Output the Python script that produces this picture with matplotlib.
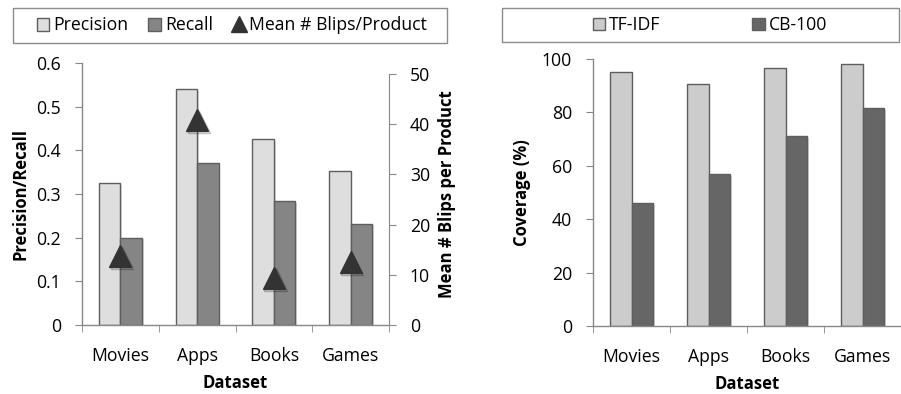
import numpy as np
import matplotlib.pyplot as plt
from matplotlib.patches import Patch, Rectangle
from matplotlib.lines import Line2D
import matplotlib.patheffects as pe

plt.rcParams['font.family'] = ['Open Sans', 'DejaVu Sans']

datasets = ['Movies', 'Apps', 'Books', 'Games']
precision = [0.325, 0.54, 0.425, 0.352]
recall = [0.20, 0.372, 0.283, 0.232]
blips = [13.7, 40.8, 9.4, 12.5]

tfidf = [95.1, 90.6, 96.6, 98.1]
cb100 = [46.0, 56.9, 71.2, 81.6]

fs = 12.7
axcol = '#888888'
edge = '#5e5e5e'
shadow = [pe.SimplePatchShadow(offset=(1.2, -1.2), alpha=0.18), pe.Normal()]

fig = plt.figure(figsize=(9.01, 3.94), dpi=100)

def style_axis(ax):
    for s in ['top', 'right']:
        ax.spines[s].set_visible(False)
    for s in ['left', 'bottom']:
        ax.spines[s].set_color(axcol)
        ax.spines[s].set_linewidth(1.0)
    ax.set_xlim(-0.5, 3.5)
    ax.set_xticks(range(4))
    ax.set_xticklabels(datasets, fontsize=fs)
    ax.set_xticks([-0.5, 0.5, 1.5, 2.5, 3.5], minor=True)
    ax.tick_params(axis='x', which='major', length=0, pad=16)
    ax.tick_params(axis='x', which='minor', length=5, color=axcol, direction='out')
    ax.tick_params(axis='y', length=5, color=axcol, direction='out', pad=10, labelsize=fs)
    ax.set_xlabel('Dataset', fontsize=12, fontweight='bold', labelpad=6)

# precision / recall with blips on secondary axis
ax1 = fig.add_axes([82 / 901, 69 / 394, 307 / 901, 262 / 394])
x = np.arange(len(datasets))
w = 0.28
b1 = ax1.bar(x - w / 2, precision, w, color='#dedede', edgecolor=edge, linewidth=1.0)
b2 = ax1.bar(x + w / 2, recall, w, color='#858585', edgecolor=edge, linewidth=1.0)
for b in list(b1) + list(b2):
    b.set_path_effects(shadow)
ax1.set_ylim(0, 0.6)
ax1.set_yticks(np.arange(0, 0.61, 0.1))
ax1.set_yticklabels(['0', '0.1', '0.2', '0.3', '0.4', '0.5', '0.6'])
style_axis(ax1)
ax1.set_ylabel('Precision/Recall', fontsize=12, fontweight='bold', labelpad=5)

ax1b = ax1.twinx()
ax1b.plot(x, blips, linestyle='none', marker='^', markersize=16, color='#333333',
          path_effects=[pe.SimpleLineShadow(offset=(1.2, -1.2), alpha=0.25), pe.Normal()])
ax1b.set_ylim(0, 52.2)
ax1b.set_yticks(range(0, 51, 10))
for s in ['top', 'left', 'bottom']:
    ax1b.spines[s].set_visible(False)
ax1b.spines['right'].set_color(axcol)
ax1b.spines['right'].set_bounds(0, 50)
ax1b.tick_params(axis='y', length=5, color=axcol, direction='out', pad=10, labelsize=fs)
ax1b.set_ylabel('Mean # Blips per Product', fontsize=12, fontweight='bold', labelpad=6)

# coverage
ax2 = fig.add_axes([593 / 901, 68 / 394, 308 / 901, 267 / 394])
c1 = ax2.bar(x - w / 2, tfidf, w, color='#cccccc', edgecolor=edge, linewidth=1.0)
c2 = ax2.bar(x + w / 2, cb100, w, color='#666666', edgecolor=edge, linewidth=1.0)
for b in list(c1) + list(c2):
    b.set_path_effects(shadow)
ax2.set_ylim(0, 100)
ax2.set_yticks(range(0, 101, 20))
style_axis(ax2)
ax2.set_ylabel('Coverage (%)', fontsize=12, fontweight='bold', labelpad=8)

# legend boxes
for x0, y0, bw, bh in [(13, 8, 434, 35), (502, 8, 397, 34)]:
    fig.patches.append(Rectangle((x0 / 901, 1 - (y0 + bh) / 394), bw / 901, bh / 394,
                                 transform=fig.transFigure, fill=False,
                                 edgecolor='#8c8c8c', linewidth=1.0))

h1 = [Patch(facecolor='#dedede', edgecolor=edge, label='Precision'),
      Patch(facecolor='#858585', edgecolor=edge, label='Recall'),
      Line2D([], [], linestyle='none', marker='^', markersize=11, color='#333333',
             label='Mean # Blips/Product')]
fig.legend(handles=h1, loc='center', bbox_to_anchor=(232 / 901, 1 - 25.5 / 394), ncol=3,
           frameon=False, fontsize=fs, handlelength=0.7, handleheight=0.7,
           handletextpad=0.25, columnspacing=1.1, borderpad=0)

h2 = [Patch(facecolor='#cccccc', edgecolor=edge, label='TF-IDF'),
      Patch(facecolor='#666666', edgecolor=edge, label='CB-100')]
fig.legend(handles=h2, loc='center', bbox_to_anchor=(710 / 901, 1 - 25 / 394), ncol=2,
           frameon=False, fontsize=fs, handlelength=0.7, handleheight=0.7,
           handletextpad=0.25, columnspacing=5.2, borderpad=0)

fig.savefig('out.png', dpi=100)
